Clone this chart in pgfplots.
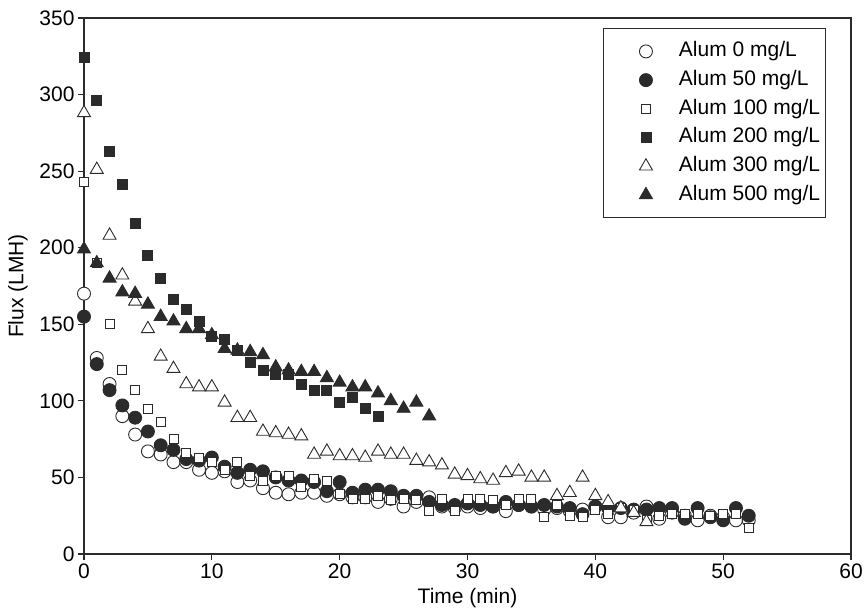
\documentclass[border=0pt]{standalone}
\usepackage{fontspec}
\setmainfont{Liberation Sans}
\usepackage{pgfplots}
\pgfplotsset{compat=1.18}
\definecolor{dk}{HTML}{2B2B2B}
\pgfplotsset{myleg/.style={legend image code/.code={\path[draw=none,fill=none] (-12bp,-1bp) rectangle (58bp,1bp); \draw[##1] plot coordinates {(26bp,0bp)};}}}
\begin{document}
\begin{tikzpicture}[font=\fontsize{21bp}{24bp}\selectfont]
\begin{axis}[name=ax,
  scale only axis, width=767bp, height=536bp,
  xmin=0, xmax=60, ymin=0, ymax=350,
  xtick={0,10,...,60}, ytick={0,50,...,350},
  tick align=outside, tick pos=left, major tick length=6bp,
  axis line style={dk, line width=1.1bp},
  every tick/.style={dk, line width=1.1bp},
  /pgf/number format/assume math mode=true,
  xlabel={Time (min)}, ylabel={Flux (LMH)},
  xlabel style={at={(axis description cs:0.5,-0.0821)}, anchor=center},
  ylabel style={at={(axis description cs:-0.086,0.5)}, anchor=center},
  every axis plot post/.append style={myleg},
  legend cell align=left,
  legend style={at={(0.967,0.981)}, anchor=north east, draw=dk, line width=1bp,
    inner xsep=4bp, inner ysep=12bp, row sep=7.2bp,
    nodes={inner sep=1bp, text height=15bp, text depth=4.5bp}},
]
\addplot[only marks, mark=*, mark size=6.5bp, draw=dk, fill=white, line width=0.9bp] table {
0 170
1 128
2 111
3 90
4 78
5 67
6 65
7 60
8 60
9 55
10 53
11 54
12 47
13 48
14 43
15 40
16 39
17 40
18 40
19 38
20 39
21 37
22 37
23 34
24 36
25 31
26 34
27 37
28 31
29 30
30 31
31 30
32 31
33 28
34 32
35 31
36 29
37 30
38 28
39 29
40 31
41 24
42 24
43 27
44 31
45 23
46 27
47 25
48 22
49 25
50 24
51 22
52 22
};
\addlegendentry{Alum 0 mg/L}
\addplot[only marks, mark=*, mark size=6.5bp, draw=dk, fill=dk, line width=0.9bp] table {
0 155
1 124
2 107
3 97
4 89
5 80
6 71
7 68
8 62
9 61
10 63
11 57
12 53
13 55
14 54
15 50
16 48
17 48
18 47
19 41
20 47
21 40
22 42
23 42
24 41
25 38
26 38
27 34
28 32
29 32
30 33
31 32
32 31
33 34
34 32
35 31
36 32
37 31
38 30
39 26
40 31
41 30
42 30
43 29
44 29
45 30
46 30
47 23
48 30
49 24
50 22
51 30
52 25
};
\addlegendentry{Alum 50 mg/L}
\addplot[only marks, mark=square*, mark size=4.5bp, draw=dk, fill=white, line width=0.9bp] table {
0 243
1 190
2 150
3 120
4 107
5 95
6 86
7 75
8 66
9 63
10 60
11 55
12 60
13 51
14 48
15 51
16 51
17 44
18 49
19 48
20 39
21 36
22 36
23 38
24 35
25 36
26 35
27 28
28 36
29 28
30 36
31 36
32 35
33 32
34 36
35 36
36 24
37 32
38 25
39 24
40 29
41 26
42 30
43 29
44 22
45 25
46 26
47 26
48 26
49 25
50 26
51 26
52 17
};
\addlegendentry{Alum 100 mg/L}
\addplot[only marks, mark=square*, mark size=5bp, draw=dk, fill=dk, line width=0.9bp] table {
0 324
1 296
2 263
3 241
4 216
5 195
6 180
7 166
8 160
9 152
10 142
11 140
12 133
13 125
14 120
15 117
16 117
17 111
18 107
19 107
20 99
21 102
22 95
23 90
};
\addlegendentry{Alum 200 mg/L}
\addplot[only marks, mark=triangle*, mark size=7.5bp, draw=dk, fill=white, line width=0.9bp] table {
0 288
1 251
2 208
3 182
4 165
5 147
6 129
7 121
8 111
9 109
10 109
11 99
12 89
13 89
14 80
15 79
16 78
17 77
18 65
19 67
20 64
21 64
22 63
23 67
24 65
25 65
26 61
27 60
28 58
29 52
30 51
31 49
32 48
33 53
34 54
35 50
36 50
37 38
38 40
39 50
40 38
41 34
42 30
43 27
44 21
};
\addlegendentry{Alum 300 mg/L}
\addplot[only marks, mark=triangle*, mark size=7.5bp, draw=dk, fill=dk, line width=0.9bp] table {
0 199
1 190
2 180
3 171
4 170
5 163
6 155
7 152
8 147
9 147
10 143
11 134
12 133
13 132
14 130
15 122
16 120
17 119
18 119
19 115
20 112
21 109
22 109
23 105
24 100
25 95
26 99
27 90
};
\addlegendentry{Alum 500 mg/L}
\end{axis}
\pgfresetboundingbox
\path[use as bounding box] ([xshift=-84bp,yshift=-58bp]ax.south west) rectangle ([xshift=16bp,yshift=18bp]ax.north east);
\end{tikzpicture}
\end{document}
